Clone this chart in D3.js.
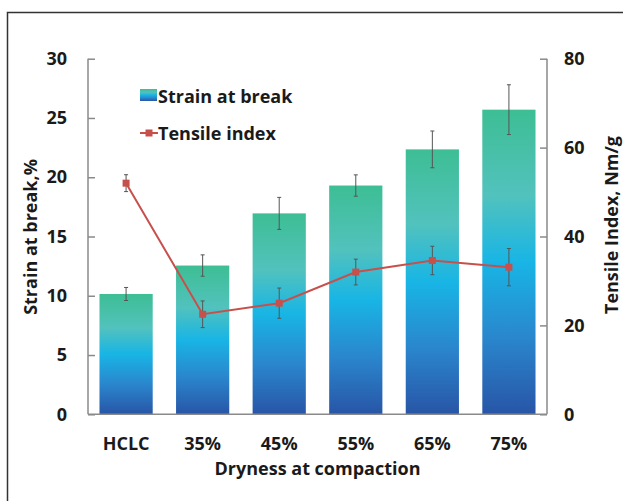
<!DOCTYPE html>
<html><head><meta charset="utf-8">
<script src="https://cdn.jsdelivr.net/npm/d3@7"></script>
<style>body{margin:0;background:#fff;}svg{display:block;font-family:"Open Sans",sans-serif;}</style>
</head><body>
<script>
const categories = ["HCLC","35%","45%","55%","65%","75%"];
const strain = [10.15, 12.55, 16.95, 19.3, 22.35, 25.7];
const strainErr = [0.55, 0.9, 1.35, 0.9, 1.55, 2.1];
const tensile = [52.0, 22.5, 25.0, 32.0, 34.6, 33.1];
const tensileErr = [1.9, 3.0, 3.4, 2.9, 3.2, 4.2];
const leftTicks = [0,5,10,15,20,25,30];
const rightTicks = [0,20,40,60,80];

const W=623,H=501;
const svg=d3.select("body").append("svg").attr("width",W).attr("height",H);
const m={l:88,r:547,t:58.7,b:414.3};
const FS=18;

svg.append("rect").attr("x",7.5).attr("y",12.5).attr("width",700).attr("height",600)
  .attr("fill","none").attr("stroke","#333").attr("stroke-width",1.5);

const defs=svg.append("defs");
const g=defs.append("linearGradient").attr("id","barGrad").attr("x1",0).attr("y1",0).attr("x2",0).attr("y2",1);
[["0%","#3dbe94"],["28%","#52c2bd"],["50%","#18b5e5"],["75%","#2a86cd"],["100%","#2855a6"]]
 .forEach(([o,c])=>g.append("stop").attr("offset",o).attr("stop-color",c));

const x=d3.scaleBand().domain(categories).range([m.l,m.r]).paddingInner(0.305).paddingOuter(0.15);
const yL=d3.scaleLinear().domain([0,30]).range([m.b,m.t]);
const yR=d3.scaleLinear().domain([0,80]).range([m.b,m.t]);

// bars
svg.selectAll("rect.bar").data(categories).enter().append("rect")
 .attr("x",d=>x(d)).attr("width",x.bandwidth())
 .attr("y",(d,i)=>yL(strain[i])).attr("height",(d,i)=>yL(0)-yL(strain[i]))
 .attr("fill","url(#barGrad)");

// bar error bars
const ec="#555";
categories.forEach((c,i)=>{
  const cx=x(c)+x.bandwidth()/2;
  const y1=yL(strain[i]+strainErr[i]), y2=yL(strain[i]-strainErr[i]);
  svg.append("line").attr("x1",cx).attr("x2",cx).attr("y1",y1).attr("y2",y2).attr("stroke",ec).attr("stroke-width",1);
  [y1,y2].forEach(yy=>svg.append("line").attr("x1",cx-2).attr("x2",cx+2).attr("y1",yy).attr("y2",yy).attr("stroke",ec).attr("stroke-width",1));
});

// axes
const axisColor="#8a8a8a";
const la=svg.append("g").attr("transform",`translate(${m.l},0)`)
 .call(d3.axisLeft(yL).tickValues(leftTicks).tickSize(-7).tickPadding(21));
const ra=svg.append("g").attr("transform",`translate(${m.r},0)`)
 .call(d3.axisRight(yR).tickValues(rightTicks).tickSize(-7).tickPadding(17));
const ba=svg.append("g").attr("transform",`translate(0,${m.b})`)
 .call(d3.axisBottom(x).tickSize(0).tickPadding(23).tickSizeOuter(0));
[la,ra,ba].forEach(a=>{
  a.selectAll("path,line").attr("stroke",axisColor).attr("stroke-width",1.5);
  a.selectAll("text").attr("font-family","Open Sans").attr("font-weight","bold").attr("font-size",FS).attr("fill","#1a1a1a");
});
la.select("path").attr("d",`M0,${m.t}V${m.b}`);
ra.select("path").attr("d",`M0,${m.t}V${m.b}`);
ba.select("path").attr("d",`M${m.l},0H${m.r}`);

// tensile line
const cxs=categories.map(c=>x(c)+x.bandwidth()/2);
const red="#c8504c";
categories.forEach((c,i)=>{
  const cx=cxs[i];
  const y1=yR(tensile[i]+tensileErr[i]), y2=yR(tensile[i]-tensileErr[i]);
  svg.append("line").attr("x1",cx).attr("x2",cx).attr("y1",y1).attr("y2",y2).attr("stroke",ec).attr("stroke-width",1);
  [y1,y2].forEach(yy=>svg.append("line").attr("x1",cx-2).attr("x2",cx+2).attr("y1",yy).attr("y2",yy).attr("stroke",ec).attr("stroke-width",1));
});
svg.append("path").datum(tensile)
 .attr("d",d3.line().x((d,i)=>cxs[i]).y(d=>yR(d)))
 .attr("fill","none").attr("stroke",red).attr("stroke-width",2);
svg.selectAll("rect.mk").data(tensile).enter().append("rect")
 .attr("x",(d,i)=>cxs[i]-3.5).attr("y",d=>yR(d)-3.5).attr("width",7).attr("height",7).attr("fill",red);

// titles
const tstyle=s=>s.attr("font-family","Open Sans").attr("font-weight","bold").attr("font-size",FS).attr("fill","#1a1a1a").attr("text-anchor","middle");
svg.append("text").attr("x",(m.l+m.r)/2).attr("y",475).text("Dryness at compaction").call(tstyle);
svg.append("text").attr("transform",`translate(37,237) rotate(-90)`).text("Strain at break,%").call(tstyle);
svg.append("text").attr("transform",`translate(618,225) rotate(-90)`).text("Tensile Index, Nm/g").call(tstyle);

// legend
const lg=svg.append("g");
lg.append("rect").attr("x",140).attr("y",89).attr("width",17).attr("height",12).attr("fill","url(#barGrad)");
lg.append("text").attr("x",158).attr("y",103).text("Strain at break").call(tstyle).attr("text-anchor","start");
lg.append("line").attr("x1",140).attr("x2",158).attr("y1",133).attr("y2",133).attr("stroke",red).attr("stroke-width",2);
lg.append("rect").attr("x",145.5).attr("y",129.5).attr("width",7).attr("height",7).attr("fill",red);
lg.append("text").attr("x",158).attr("y",140).text("Tensile index").call(tstyle).attr("text-anchor","start");
</script>
</body></html>
